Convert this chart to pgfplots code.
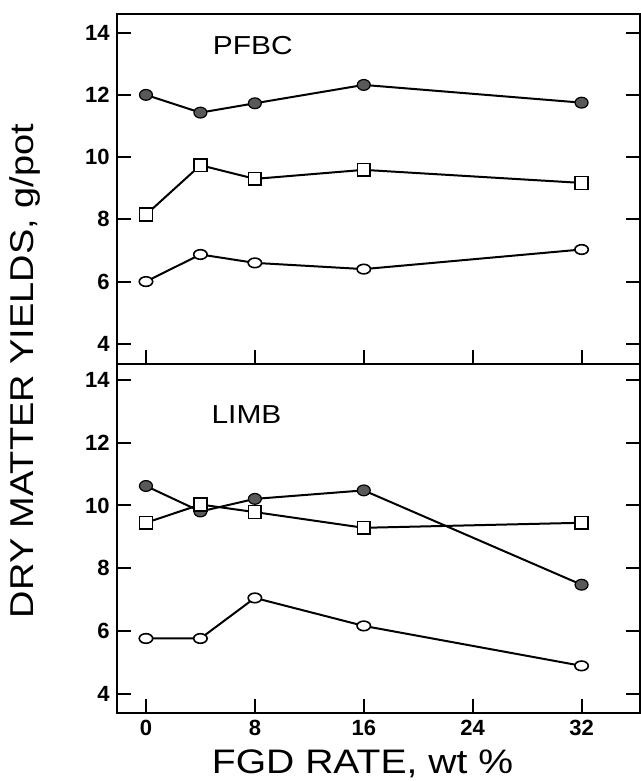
\documentclass[border=0pt]{standalone}
\usepackage{fontspec}
\setmainfont{Liberation Sans}
\newfontfamily\labfont[FakeStretch=1.15]{Liberation Sans}
\usepackage{pgfplots}
\pgfplotsset{compat=1.18}

\pgfplotsset{
  panel/.style={
    scale only axis, width=261.7pt,
    xmin=-2.15, xmax=36.3,
    xtick={0,8,16,24,32}, ytick={4,6,8,10,12,14},
    xtick pos=left, ytick pos=both,
    tick align=inside, major tick length=7pt,
    tick style={line width=1pt, black},
    axis line style={line width=1pt},
    ticklabel style={font=\bfseries\fontsize{11}{13}\selectfont},
    /pgf/number format/assume math mode=true,
    clip=false,
  },
  dark/.style={black, line width=1pt, mark=*, mark size=2.7pt,
    mark options={fill=black!65, draw=black, line width=0.6pt, xscale=1.2}},
  box/.style={black, line width=1pt, mark=square*, mark size=3.2pt,
    mark options={fill=white, draw=black, line width=0.8pt}},
  ring/.style={black, line width=1pt, mark=*, mark size=2.4pt,
    mark options={fill=white, draw=black, line width=0.8pt, xscale=1.4}},
}

\begin{document}
\begin{tikzpicture}
% lower panel: LIMB
\begin{axis}[panel, at={(0,0)}, anchor=south west, height=174.5pt,
  ymin=3.4, ymax=14.5]
\addplot[dark] coordinates {(0,10.62) (4,9.81) (8,10.21) (16,10.48) (32,7.48)};
\addplot[box] coordinates {(0,9.45) (4,10.03) (8,9.79) (16,9.29) (32,9.45)};
\addplot[ring] coordinates {(0,5.77) (4,5.77) (8,7.06) (16,6.17) (32,4.9)};
\node[anchor=west, font=\labfont\fontsize{13}{15}\selectfont] at (axis cs:4.3,12.9) {LIMB};
\end{axis}
% upper panel: PFBC
\begin{axis}[panel, at={(0,174.5pt)}, anchor=south west, height=175pt,
  ymin=3.35, ymax=14.6, xticklabels={}]
\addplot[dark] coordinates {(0,12.0) (4,11.43) (8,11.73) (16,12.32) (32,11.75)};
\addplot[box] coordinates {(0,8.15) (4,9.74) (8,9.3) (16,9.59) (32,9.17)};
\addplot[ring] coordinates {(0,6.0) (4,6.87) (8,6.6) (16,6.4) (32,7.03)};
\node[anchor=west, font=\labfont\fontsize{13}{15}\selectfont] at (axis cs:4.4,13.58) {PFBC};
\end{axis}
\node[rotate=90, font=\labfont\fontsize{16.5}{20}\selectfont] at (-45.85pt,171pt) {DRY MATTER YIELDS, g/pot};
\node[anchor=base, font=\labfont\fontsize{17}{20}\selectfont] at (122.9pt,-30pt) {FGD RATE, wt \%};
\pgfresetboundingbox
\path[use as bounding box] (-58.35pt,-34pt) rectangle (262.15pt,356.5pt);
\end{tikzpicture}
\end{document}
